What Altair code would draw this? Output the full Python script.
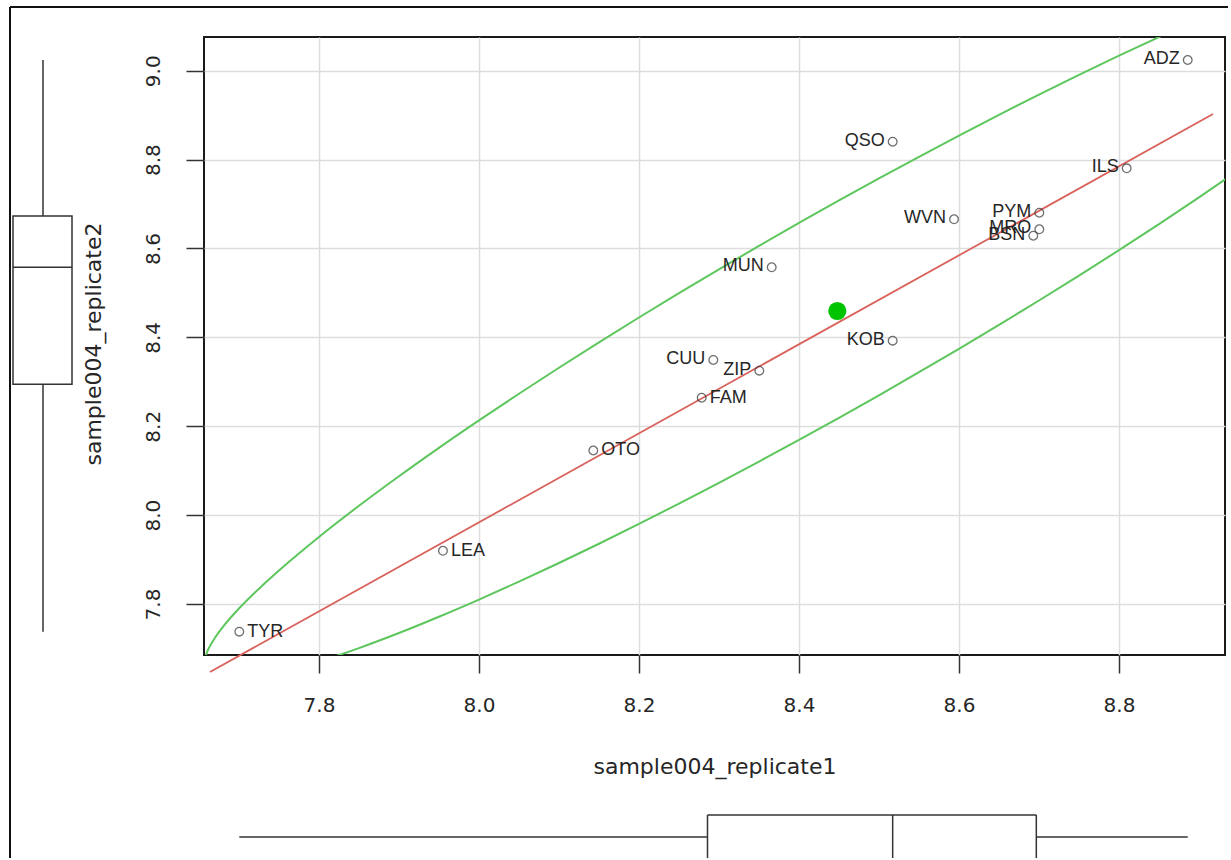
import altair as alt
import pandas as pd
import numpy as np

# ---------------- data ----------------
names = ["ADZ", "QSO", "ILS", "WVN", "PYM", "MRO", "BSN", "MUN",
         "KOB", "CUU", "ZIP", "FAM", "OTO", "LEA", "TYR"]
rep1 = [8.8859, 8.5171, 8.8096, 8.5938, 8.7004, 8.7004, 8.6929, 8.3659,
        8.5171, 8.2929, 8.3504, 8.2784, 8.1429, 7.9550, 7.7004]
rep2 = [9.0241, 8.8403, 8.7804, 8.6657, 8.6805, 8.6432, 8.6287, 8.5577,
        8.3925, 8.3491, 8.3250, 8.2642, 8.1454, 7.9197, 7.7377]
labels_on_right = ["FAM", "OTO", "LEA", "TYR"]

centre_x = [8.4479]
centre_y = [8.4593]

fit_x = [7.6638, 8.9175]
fit_y = [7.6470, 8.9026]

# ellipse outline: upper branch (right to left), then lower branch (left to right)
ellipse_x = [8.90, 8.85, 8.80, 8.75, 8.70, 8.65, 8.60, 8.55, 8.50, 8.45,
             8.40, 8.35, 8.30, 8.25, 8.20, 8.15, 8.10, 8.05, 8.00, 7.95,
             7.90, 7.85, 7.80, 7.75, 7.72, 7.70, 7.68, 7.67, 7.66, 7.657,
             7.66, 7.67, 7.68, 7.70, 7.72, 7.75, 7.80, 7.85, 7.90, 7.95,
             8.00, 8.05, 8.10, 8.15, 8.20, 8.25, 8.30, 8.35, 8.40, 8.45,
             8.50, 8.55, 8.60, 8.65, 8.70, 8.75, 8.80, 8.85, 8.90, 8.95]
ellipse_y = [9.1160, 9.0757, 9.0339, 8.9908, 8.9463, 8.9008, 8.8541, 8.8064,
             8.7577, 8.7081, 8.6574, 8.6057, 8.5531, 8.4994, 8.4447, 8.3888,
             8.3316, 8.2731, 8.2131, 8.1514, 8.0875, 8.0210, 7.9509, 7.8755,
             7.8260, 7.7898, 7.7487, 7.7242, 7.6913, 7.6670,
             7.6488, 7.6359, 7.6316, 7.6307, 7.6346, 7.6454, 7.6704, 7.7008,
             7.7347, 7.7713, 7.8100, 7.8504, 7.8923, 7.9356, 7.9802, 8.0259,
             8.0726, 8.1204, 8.1692, 8.2190, 8.2697, 8.3215, 8.3742, 8.4280,
             8.4829, 8.5389, 8.5962, 8.6548, 8.7150, 8.7769]

x_ticks = [7.8, 8.0, 8.2, 8.4, 8.6, 8.8]
y_ticks = [7.8, 8.0, 8.2, 8.4, 8.6, 8.8, 9.0]
x_domain = [7.6563, 8.9325]
y_domain = [7.6852, 9.0759]
x_title = "sample004_replicate1"
y_title = "sample004_replicate2"

# ---------------- derived tables ----------------
def fivenum(v):
    s = np.sort(np.asarray(v, dtype=float))
    n = len(s)
    n4 = np.floor((n + 3) / 2) / 2
    d = np.array([1, n4, (n + 1) / 2, n + 1 - n4, n]) - 1
    return 0.5 * (s[np.floor(d).astype(int)] + s[np.ceil(d).astype(int)])

fx = fivenum(rep1)
fy = fivenum(rep2)
bx = pd.DataFrame([dict(lo=fx[0], q1=fx[1], med=fx[2], q3=fx[3], hi=fx[4])])
by = pd.DataFrame([dict(lo=fy[0], q1=fy[1], med=fy[2], q3=fy[3], hi=fy[4])])

pts = pd.DataFrame({"name": names, "x": rep1, "y": rep2})
pts_r = pts[pts["name"].isin(labels_on_right)]
pts_l = pts[~pts["name"].isin(labels_on_right)]
ell = pd.DataFrame({"x": ellipse_x, "y": ellipse_y, "i": range(len(ellipse_x))})
fit = pd.DataFrame({"x": fit_x, "y": fit_y})
cen = pd.DataFrame({"x": centre_x, "y": centre_y})
one = pd.DataFrame({"k": [0]})

W, H = 1021, 618
INK = "#262626"
BOXC = "#333333"
AX_FONT = "DejaVu Sans"

xs = alt.Scale(domain=x_domain, nice=False, zero=False)
ys = alt.Scale(domain=y_domain, nice=False, zero=False)

x_axis = alt.Axis(values=x_ticks, format=".1f", title=None, grid=True,
                  labelBaseline="alphabetic", labelPadding=38, labelFlush=False,
                  labelOverlap=False, labelFont=AX_FONT, labelFontSize=20,
                  labelColor=INK, tickSize=18, tickWidth=1.5, tickColor=BOXC,
                  domain=False, gridColor="#dddddd", gridWidth=1.5)
y_axis = alt.Axis(values=y_ticks, format=".1f", title=None, grid=True,
                  labelAngle=270, labelAlign="center", labelBaseline="alphabetic",
                  labelPadding=27, labelFlush=False, labelOverlap=False,
                  labelFont=AX_FONT, labelFontSize=20, labelColor=INK,
                  tickSize=18, tickWidth=1.5, tickColor=BOXC,
                  domain=False, gridColor="#dddddd", gridWidth=1.5)

base = alt.Chart(pts).encode(
    x=alt.X("x:Q", scale=xs, axis=x_axis),
    y=alt.Y("y:Q", scale=ys, axis=y_axis),
)

ellipse = alt.Chart(ell).mark_line(
    clip=True, interpolate="catmull-rom", color="#5dc65d", strokeWidth=2
).encode(x=alt.X("x:Q", scale=xs), y=alt.Y("y:Q", scale=ys), order="i:Q")

fit_line = alt.Chart(fit).mark_line(
    clip=False, color="#d9625c", strokeWidth=1.8
).encode(x=alt.X("x:Q", scale=xs), y=alt.Y("y:Q", scale=ys))

circles = base.mark_point(shape="circle", filled=False, size=75,
                          color="#333333", strokeWidth=1.3)

centre = alt.Chart(cen).mark_circle(size=330, color="#00c400", opacity=1).encode(
    x=alt.X("x:Q", scale=xs), y=alt.Y("y:Q", scale=ys))

lab_l = alt.Chart(pts_l).mark_text(
    align="right", baseline="middle", dx=-8, dy=-1, font="Liberation Sans",
    fontSize=18, color=INK
).encode(x=alt.X("x:Q", scale=xs), y=alt.Y("y:Q", scale=ys), text="name:N")

lab_r = alt.Chart(pts_r).mark_text(
    align="left", baseline="middle", dx=8, dy=0, font="Liberation Sans",
    fontSize=18, color=INK
).encode(x=alt.X("x:Q", scale=xs), y=alt.Y("y:Q", scale=ys), text="name:N")

# ---- left (vertical) boxplot of replicate2 ----
BOXL, BOXR, WHX = -191, -132, -161
lbox = alt.Chart(by).mark_rect(fill="white", stroke=BOXC, strokeWidth=1.5).encode(
    x=alt.value(BOXL), x2=alt.value(BOXR),
    y=alt.Y("q1:Q", scale=ys), y2="q3:Q")
lmed = alt.Chart(by).mark_rule(color=BOXC, strokeWidth=1.5).encode(
    x=alt.value(BOXL), x2=alt.value(BOXR), y=alt.Y("med:Q", scale=ys))
lw1 = alt.Chart(by).mark_rule(color=BOXC, strokeWidth=1.5).encode(
    x=alt.value(WHX), y=alt.Y("lo:Q", scale=ys), y2="q1:Q")
lw2 = alt.Chart(by).mark_rule(color=BOXC, strokeWidth=1.5).encode(
    x=alt.value(WHX), y=alt.Y("q3:Q", scale=ys), y2="hi:Q")

# ---- bottom (horizontal) boxplot of replicate1 ----
BT, BB, WHY = 778, 821, 800
btop = alt.Chart(bx).mark_rule(color=BOXC, strokeWidth=1.5).encode(
    x=alt.X("q1:Q", scale=xs), x2="q3:Q", y=alt.value(BT))
bs1 = alt.Chart(bx).mark_rule(color=BOXC, strokeWidth=1.5).encode(
    x=alt.X("q1:Q", scale=xs), y=alt.value(BT), y2=alt.value(BB))
bs2 = alt.Chart(bx).mark_rule(color=BOXC, strokeWidth=1.5).encode(
    x=alt.X("q3:Q", scale=xs), y=alt.value(BT), y2=alt.value(BB))
bmed = alt.Chart(bx).mark_rule(color=BOXC, strokeWidth=1.5).encode(
    x=alt.X("med:Q", scale=xs), y=alt.value(BT), y2=alt.value(BB))
bw1 = alt.Chart(bx).mark_rule(color=BOXC, strokeWidth=1.5).encode(
    x=alt.X("lo:Q", scale=xs), x2="q1:Q", y=alt.value(WHY))
bw2 = alt.Chart(bx).mark_rule(color=BOXC, strokeWidth=1.5).encode(
    x=alt.X("q3:Q", scale=xs), x2="hi:Q", y=alt.value(WHY))

# ---- axis titles ----
xt = alt.Chart(one).mark_text(
    text=x_title, font=AX_FONT, fontSize=22, color=INK, align="center",
    baseline="alphabetic").encode(x=alt.value(511), y=alt.value(737))
yt = alt.Chart(one).mark_text(
    text=y_title, font=AX_FONT, fontSize=22, color=INK, align="center",
    baseline="alphabetic", angle=270).encode(x=alt.value(-103), y=alt.value(307))

# ---- outer figure border (left and top visible) ----
bl = alt.Chart(one).mark_rule(color="#111111", strokeWidth=2).encode(
    x=alt.value(-194), y=alt.value(-30), y2=alt.value(821))
bt = alt.Chart(one).mark_rule(color="#111111", strokeWidth=2).encode(
    x=alt.value(-194), x2=alt.value(1024), y=alt.value(-30))

chart = alt.layer(
    ellipse, fit_line, circles, centre, lab_l, lab_r,
    lbox, lmed, lw1, lw2,
    btop, bs1, bs2, bmed, bw1, bw2,
    xt, yt, bl, bt,
).properties(
    width=W, height=H, background="white",
    padding={"left": 9, "top": 6, "right": 0, "bottom": 0},
).configure_view(
    stroke="#1a1a1a", strokeWidth=2
)

chart.save("out.html", embed_options={"renderer": "svg", "actions": False})
